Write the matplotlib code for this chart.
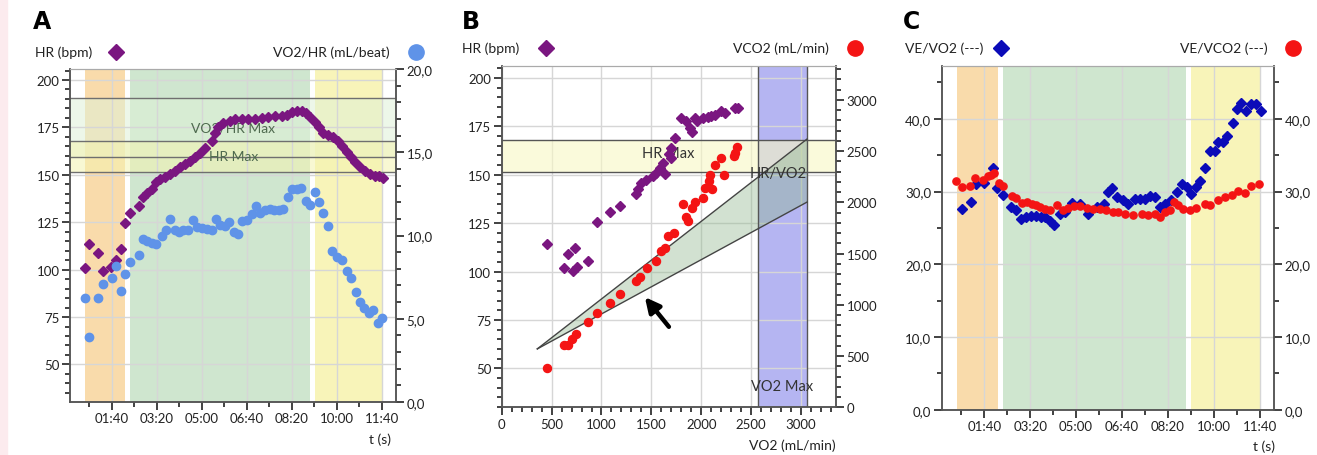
import numpy as np
import matplotlib
matplotlib.use("Agg")
import matplotlib.pyplot as plt
from matplotlib.lines import Line2D
from matplotlib.patches import Rectangle, Polygon
from matplotlib.ticker import FixedLocator, MultipleLocator

plt.rcParams['font.family'] = ['Lato', 'DejaVu Sans']

# ---------------- data ----------------
# Panel A: HR (bpm) and VO2/HR (mL/beat) vs time (s)
t_hr_a = [41, 50, 70, 80, 98, 110, 120, 130, 141, 161, 170, 179, 189, 198, 207, 218, 229, 241, 252, 263,
          274, 285, 296, 307, 322, 330, 337, 348, 363, 374, 389, 403, 418, 433, 448, 463, 478, 489, 500, 511,
          522, 531, 541, 552, 561, 570, 581, 592, 602, 611, 622, 632, 641, 652, 663, 674, 685, 694, 704]
hr_a = [100.8, 113.5, 108.6, 99.4, 101.5, 105, 110.7, 124.6, 129.7, 133.4, 138.1, 140.2, 142.5, 146, 147.8,
        149, 150.4, 151.8, 154, 155.7, 157.1, 159.2, 161.3, 164.1, 168, 171.9, 175, 177.2, 178.5, 179.4,
        179.4, 179.4, 179.4, 179.9, 180.6, 181, 181, 181.6, 183, 183.8, 183.8, 182.4, 180.6, 177.7, 175,
        171.9, 171.2, 170.1, 168, 165.4, 161.9, 159.2, 156.6, 154.3, 152.2, 150.4, 149.5, 149.5, 148.3]
t_o2p_a = [41, 50, 70, 80, 100, 110, 120, 130, 141, 161, 170, 179, 189, 199, 211, 221, 230, 241, 250, 259,
           270, 280, 290, 300, 311, 322, 331, 341, 352, 361, 372, 381, 389, 400, 411, 420, 430, 441, 452, 461,
           472, 481, 491, 500, 511, 521, 531, 541, 552, 561, 570, 581, 590, 600, 611, 622, 632, 642, 652, 661,
           672, 681, 691, 701]
o2p_a = [6.27, 3.9, 6.27, 7.09, 7.43, 8.18, 6.67, 7.7, 8.38, 8.84, 9.81, 9.65, 9.55, 9.5, 9.95, 10.35, 11.0,
         10.31, 10.19, 10.35, 10.35, 10.92, 10.51, 10.45, 10.39, 10.35, 11.0, 10.65, 10.6, 10.8, 10.19, 10.11,
         10.86, 10.95, 11.32, 11.8, 11.36, 11.52, 11.6, 11.52, 11.56, 11.6, 12.33, 12.77, 12.77, 12.87, 12.07,
         11.86, 12.61, 12.0, 11.36, 10.55, 9.05, 8.7, 8.5, 7.84, 7.43, 6.63, 6.02, 5.62, 5.36, 5.52, 4.76, 5.02]

# Panel B: HR and VCO2 vs VO2 (mL/min)
vo2_hr_b = [450, 627, 667, 733, 717, 750, 860, 960, 1083, 1183, 1350, 1367, 1400, 1450, 1517, 1550, 1583,
            1617, 1640, 1680, 1693, 1700, 1740, 1800, 1850, 1883, 1907, 1933, 1960, 2017, 2067, 2100, 2133,
            2200, 2233, 2333, 2367]
hr_b = [114.4, 101.6, 109.3, 111.9, 100.3, 102.5, 105.4, 125.5, 130.6, 134, 140, 142.6, 146, 147.4, 149.4,
        151.1, 153.7, 156.2, 150.3, 161, 158.8, 163.9, 169, 179.3, 177.6, 174.1, 171.9, 179.3, 178, 179.3,
        179.8, 180.5, 181, 183.2, 182, 184.4, 184.4]
vo2_co2_b = [450, 627, 667, 700, 740, 860, 960, 1083, 1183, 1350, 1383, 1460, 1550, 1600, 1633, 1667, 1727,
             1817, 1850, 1867, 1907, 1940, 2017, 2033, 2073, 2090, 2107, 2133, 2200, 2227, 2327, 2340, 2360]
vco2_b = [380, 607, 607, 663, 718, 835, 916, 1020, 1102, 1232, 1271, 1355, 1427, 1524, 1550, 1671, 1703,
          1980, 1856, 1817, 1947, 2006, 2045, 2142, 2207, 2266, 2126, 2363, 2435, 2266, 2451, 2484, 2539]

# Panel C: ventilatory equivalents vs time (s)
t_vevo2_c = [51, 70, 82, 99, 118, 128, 140, 158, 169, 179, 191, 201, 213, 223, 232, 242, 252, 265, 276, 290,
             308, 326, 345, 361, 370, 378, 390, 403, 414, 428, 439, 450, 461, 471, 482, 494, 506, 519, 530, 541,
             551, 562, 571, 580, 591, 602, 609, 620, 629, 641, 651, 660, 671, 682, 692, 702]
ve_vo2_c = [27.6, 28.6, 31.05, 31.2, 33.2, 30.5, 29.5, 27.85, 27.4, 26.25, 26.5, 26.6, 26.7, 26.5, 26.5, 25.9,
            25.4, 26.9, 27.2, 28.4, 28.3, 26.9, 27.85, 28.3, 29.9, 30.5, 29.2, 28.8, 28.3, 29.0, 29.0, 29.0,
            29.45, 29.2, 27.85, 28.3, 28.8, 29.9, 31.05, 30.6, 29.7, 30.6, 31.5, 33.3, 35.6, 35.6, 36.85, 36.8,
            37.7, 39.4, 41.4, 42.2, 41.1, 42.1, 42.0, 41.1]
t_vevco2_c = [38, 51, 69, 80, 98, 107, 114, 121, 131, 140, 160, 170, 181, 192, 203, 213, 221, 232, 243, 259,
              272, 283, 295, 308, 323, 336, 352, 366, 381, 392, 406, 424, 443, 457, 472, 482, 494, 504, 513, 522,
              533, 548, 562, 580, 591, 609, 624, 639, 653, 668, 682, 699]
ve_vco2_c = [31.5, 30.6, 30.7, 31.8, 31.6, 32.1, 32.3, 32.6, 31.2, 30.7, 29.4, 29.1, 28.45, 28.5, 28.3, 28.1,
             27.85, 27.6, 27.4, 28.2, 27.5, 27.7, 28.0, 28.0, 27.7, 27.6, 27.6, 27.4, 27.25, 27.25, 26.9, 26.8,
             26.9, 26.8, 26.9, 26.5, 27.2, 27.5, 28.5, 28.1, 27.6, 27.5, 27.7, 28.3, 28.1, 28.9, 29.2, 29.5,
             30.1, 29.8, 30.8, 31.05]

# phases (s) and threshold bands
phase_warmup = (41, 129)
phase_exercise = (140, 540)
phase_recovery = (551, 700)
hr_max_band = (151.6, 168.0)
vo2hr_max_band = (159.2, 190.5)      # drawn in HR units
vo2_max_band = (2567, 3060)          # mL/min
hr_vo2_apex = (357, 60.0)
hr_vo2_upper = (3060, 168.5)
hr_vo2_lower = (3060, 135.9)

time_ticks = [100, 200, 300, 400, 500, 600, 700]
time_labels = ["01:40", "03:20", "05:00", "06:40", "08:20", "10:00", "11:40"]

# ---------------- styling ----------------
W, H = 1317, 456
fig = plt.figure(figsize=(W / 100, H / 100), dpi=100)
fig.patch.set_facecolor('white')
fig.add_artist(Rectangle((0, 0), 7 / W, 1, transform=fig.transFigure, color='#fcebee', zorder=0))

PURPLE = '#7a1680'
LBLUE = '#5f93e8'
RED = '#f41414'
DBLUE = '#0b0bb8'
ORANGE = '#f9dbab'
GREEN = '#cfe6cf'
YELLOW = '#f8f4b9'
TXT = '#222222'
TICKFS = 9.5


def ax_rect(l, t, r, b):
    return [l / W, 1 - b / H, (r - l) / W, (b - t) / H]


def style_axes(ax, right=False):
    for s in ['left', 'right', 'bottom']:
        ax.spines[s].set_color('#555555')
        ax.spines[s].set_linewidth(1.1)
    ax.spines['top'].set_color('#aaaaaa')
    ax.tick_params(which='major', direction='out', length=5.5, width=1.3, color='#333333',
                   labelsize=TICKFS, labelcolor=TXT, pad=2)
    ax.tick_params(which='minor', direction='out', length=3.5, width=1.3, color='#333333')


def time_axis(ax):
    ax.set_xlim(7, 732)
    ax.xaxis.set_major_locator(FixedLocator(time_ticks))
    ax.set_xticklabels(time_labels)
    ax.xaxis.set_minor_locator(FixedLocator([50, 150, 250, 350, 450, 550, 650]))


def phases(ax):
    ax.axvspan(*phase_warmup, color=ORANGE, zorder=0, lw=0)
    ax.axvspan(*phase_exercise, color=GREEN, zorder=0, lw=0)
    ax.axvspan(*phase_recovery, color=YELLOW, zorder=0, lw=0)


def header(xl, xr, y, left_txt, left_mx, left_marker, left_color, right_txt, right_mx, right_marker, right_color,
           letter, letter_x):
    fig.text(letter_x / W, 1 - 22 / H, letter, fontsize=17, fontweight='bold', color='black',
             va='center', ha='left', family='DejaVu Sans')
    fig.text(xl / W, 1 - y / H, left_txt, fontsize=10, color=TXT, va='center', ha='left')
    fig.add_artist(Line2D([left_mx / W], [1 - y / H], transform=fig.transFigure, marker=left_marker,
                          color=left_color, markersize=8 if left_marker == 'D' else 10, ls='none'))
    fig.text(xr / W, 1 - y / H, right_txt, fontsize=10, color=TXT, va='center', ha='right')
    fig.add_artist(Line2D([right_mx / W], [1 - y / H], transform=fig.transFigure, marker=right_marker,
                          color=right_color, markersize=8 if right_marker == 'D' else 11, ls='none'))


grid_kw = dict(color='#d6d6d6', lw=1.0)

# ---------------- Panel A ----------------
axA = fig.add_axes(ax_rect(70, 70, 396, 403))
phases(axA)
axA.axhspan(*vo2hr_max_band, color='#dff1d8', alpha=0.55, zorder=0.3, lw=0)
axA.axhspan(*hr_max_band, color='#f4f3b0', alpha=0.55, zorder=0.35, lw=0)
for v in list(vo2hr_max_band) + list(hr_max_band):
    axA.axhline(v, color='#6f6f6f', lw=1.0, zorder=1.6)
axA.set_ylim(30.2, 205.8)
axA.yaxis.set_major_locator(MultipleLocator(25))
axA.yaxis.set_minor_locator(MultipleLocator(5))
time_axis(axA)
axA.grid(True, which='major', **grid_kw)
axA.set_axisbelow(True)
axA.text(370, 175, 'VO2/HR Max', color='#4f6a4f', fontsize=10, ha='center', va='center', zorder=1.8)
axA.text(370, 159.8, 'HR Max', color='#4f6a4f', fontsize=10, ha='center', va='center', zorder=1.8)
axA.plot(t_hr_a, hr_a, ls='none', marker='D', markersize=5.4, color=PURPLE, zorder=3)
style_axes(axA)
axA2 = axA.twinx()
axA2.set_ylim(0, 20)
axA2.yaxis.set_major_locator(FixedLocator([0, 5, 10, 15, 20]))
axA2.set_yticklabels(["0,0", "5,0", "10,0", "15,0", "20,0"])
axA2.yaxis.set_minor_locator(MultipleLocator(1))
axA2.plot(t_o2p_a, o2p_a, ls='none', marker='o', markersize=6, color=LBLUE, zorder=3)
style_axes(axA2)
fig.text(391 / W, 1 - 440 / H, 't (s)', fontsize=10, color=TXT, ha='right', va='center')
header(35, 390, 53, 'HR (bpm)', 116, 'D', PURPLE, 'VO2/HR (mL/beat)', 416, 'o', LBLUE, 'A', 33)

# ---------------- Panel B ----------------
axB = fig.add_axes(ax_rect(501.7, 66.7, 836, 408.3))
axB.set_xlim(0, 3350)
axB.set_ylim(29.8, 206.4)
axB.xaxis.set_major_locator(MultipleLocator(500))
axB.xaxis.set_minor_locator(MultipleLocator(100))
axB.yaxis.set_major_locator(MultipleLocator(25))
axB.yaxis.set_minor_locator(MultipleLocator(5))
axB.grid(True, which='major', **grid_kw)
axB.set_axisbelow(True)
axB.axvspan(*vo2_max_band, color='#b5b5f2', zorder=0.5, lw=0)
for v in vo2_max_band:
    axB.axvline(v, color='#555555', lw=1.0, zorder=1.6)
axB.axhspan(*hr_max_band, color='#f8f8c4', alpha=0.6, zorder=0.6, lw=0)
for v in hr_max_band:
    axB.axhline(v, color='#555555', lw=1.0, zorder=1.6)
tri = Polygon([hr_vo2_apex, hr_vo2_upper, hr_vo2_lower], closed=True, facecolor='#8fb68c', alpha=0.4,
              edgecolor='none', zorder=0.8)
axB.add_patch(tri)
axB.plot([hr_vo2_apex[0], hr_vo2_upper[0]], [hr_vo2_apex[1], hr_vo2_upper[1]], color='#444444', lw=1.0, zorder=1.7)
axB.plot([hr_vo2_apex[0], hr_vo2_lower[0]], [hr_vo2_apex[1], hr_vo2_lower[1]], color='#444444', lw=1.0, zorder=1.7)
axB.text(1667, 161.2, 'HR Max', color='#333333', fontsize=10.5, ha='center', va='center', zorder=1.8)
axB.text(2770, 151.0, 'HR/VO2', color='#333333', fontsize=10.5, ha='center', va='center', zorder=1.8)
axB.text(2810, 41, 'VO2 Max', color='#333333', fontsize=10.5, ha='center', va='center', zorder=1.8)
axB.plot(vo2_hr_b, hr_b, ls='none', marker='D', markersize=5.4, color=PURPLE, zorder=3)
axB.annotate('', xy=(1417, 87.9), xytext=(1693, 70.3),
             arrowprops=dict(arrowstyle='-|>', color='black', lw=3.2, mutation_scale=22), zorder=4)
style_axes(axB)
axB2 = axB.twinx()
axB2.set_ylim(0, 3333)
axB2.yaxis.set_major_locator(MultipleLocator(500))
axB2.yaxis.set_minor_locator(MultipleLocator(100))
axB2.plot(vo2_co2_b, vco2_b, ls='none', marker='o', markersize=5.8, color=RED, zorder=3)
style_axes(axB2)
fig.text(836 / W, 1 - 446 / H, 'VO2 (mL/min)', fontsize=10, color=TXT, ha='right', va='center')
header(462, 829, 49, 'HR (bpm)', 546, 'D', PURPLE, 'VCO2 (mL/min)', 855, 'o', RED, 'B', 462)

# ---------------- Panel C ----------------
axC = fig.add_axes(ax_rect(941.7, 66.7, 1274.3, 410.7))
phases(axC)
time_axis(axC)
axC.set_ylim(0, 47.3)
axC.yaxis.set_major_locator(FixedLocator([0, 10, 20, 30, 40]))
axC.set_yticklabels(["0,0", "10,0", "20,0", "30,0", "40,0"])
axC.yaxis.set_minor_locator(FixedLocator([5, 15, 25, 35, 45]))
axC.grid(True, which='major', **grid_kw)
axC.set_axisbelow(True)
axC.plot(t_vevo2_c, ve_vo2_c, ls='none', marker='D', markersize=5, color=DBLUE, zorder=3)
style_axes(axC)
axC2 = axC.twinx()
axC2.set_ylim(0, 47.3)
axC2.yaxis.set_major_locator(FixedLocator([0, 10, 20, 30, 40]))
axC2.set_yticklabels(["0,0", "10,0", "20,0", "30,0", "40,0"])
axC2.yaxis.set_minor_locator(FixedLocator([5, 15, 25, 35, 45]))
axC2.plot(t_vevco2_c, ve_vco2_c, ls='none', marker='o', markersize=5.2, color=RED, zorder=3)
style_axes(axC2)
fig.text(1275 / W, 1 - 447 / H, 't (s)', fontsize=10, color=TXT, ha='right', va='center')
header(905, 1268, 49, 'VE/VO2 (---)', 1001, 'D', DBLUE, 'VE/VCO2 (---)', 1293, 'o', RED, 'C', 903)

fig.savefig('out.png', dpi=100)
